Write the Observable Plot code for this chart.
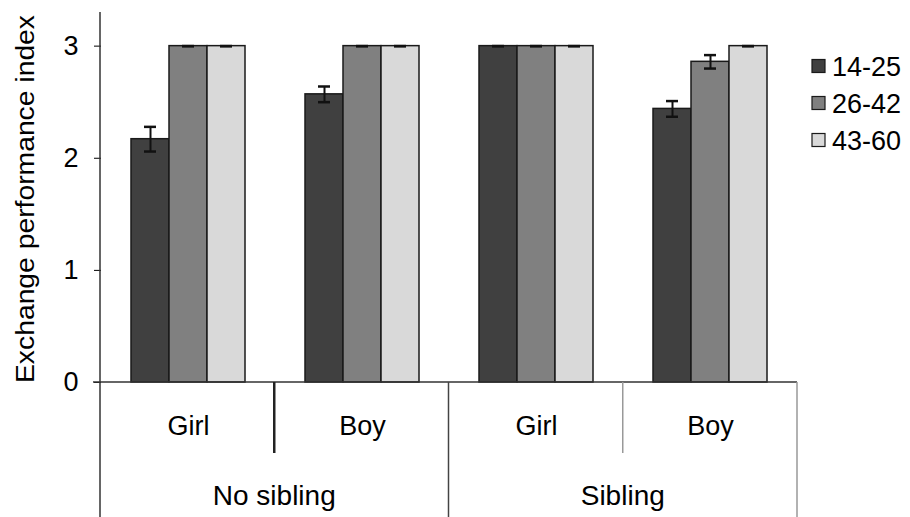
<!DOCTYPE html>
<html>
<head>
<meta charset="utf-8">
<script src="https://cdn.jsdelivr.net/npm/d3@7"></script>
<script src="https://cdn.jsdelivr.net/npm/@observablehq/plot@0.6"></script>
<style>
  html, body { margin: 0; padding: 0; background: #fff; }
  #chart { width: 910px; height: 517px; }
</style>
</head>
<body>
<div id="chart"></div>
<script>
// ---- data ----
const siblings = ["No sibling", "No sibling", "Sibling", "Sibling"];
const genders = ["Girl", "Boy", "Girl", "Boy"];
const ages = ["14-25", "26-42", "43-60"];
const mean1425 = [2.17, 2.57, 3.00, 2.44];
const mean2642 = [3.00, 3.00, 3.00, 2.86];
const mean4360 = [3.00, 3.00, 3.00, 3.00];
const err1425 = [0.11, 0.07, 0.00, 0.07];
const err2642 = [0.00, 0.00, 0.00, 0.06];
const err4360 = [0.00, 0.00, 0.00, 0.00];
const yTicks = [0, 1, 2, 3];
const yTitle = "Exchange performance index";
const ageColors = ["#404040", "#808080", "#d9d9d9"];

// ---- build table ----
const groups = siblings.map((s, i) => s + " · " + genders[i]);
const means = [mean1425, mean2642, mean4360];
const errs = [err1425, err2642, err4360];
const data = groups.flatMap((g, i) => ages.map((a, j) => ({
  group: g, age: a, mean: means[j][i], err: errs[j][i]
})));

const W = 910, H = 517;
const font = "'Liberation Sans', Arial, sans-serif";

const plot = Plot.plot({
  width: W,
  height: H,
  marginLeft: 100,
  marginRight: 113,
  marginTop: 12,
  marginBottom: 135,
  style: { fontFamily: font, fontSize: "27px", color: "#000", background: "#fff", overflow: "visible" },
  facet: { data, x: "group" },
  fx: { domain: groups, padding: 0, axis: "bottom", label: null, tickSize: 0, tickPadding: 33,
        tickFormat: g => genders[groups.indexOf(g)] },
  x: { domain: ages, paddingInner: 0, paddingOuter: 0.75, axis: null },
  y: { domain: [0, 3.3], ticks: yTicks, tickSize: 7, tickPadding: 16, label: null, tickFormat: d3.format("d") },
  color: { domain: ages, range: ageColors },
  marks: [
    Plot.barY(data, { x: "age", y: "mean", fill: "age", stroke: "#1a1a1a", strokeWidth: 1.5 }),
    Plot.ruleX(data, { x: "age", y1: d => d.mean - d.err, y2: d => d.mean + d.err, stroke: "#111", strokeWidth: 2 }),
    Plot.tickY(data, { x: "age", y: d => d.mean - d.err, stroke: "#111", strokeWidth: 2.5, insetLeft: 13, insetRight: 13 }),
    Plot.tickY(data, { x: "age", y: d => d.mean + d.err, stroke: "#111", strokeWidth: 2.5, insetLeft: 13, insetRight: 13 })
  ]
});

document.getElementById("chart").appendChild(plot);

// ---- decorations using Plot's own scales ----
const fxs = plot.scale("fx");
const fx = d3.scaleBand().domain(fxs.domain).range(fxs.range)
  .paddingInner(fxs.paddingInner ?? 0).paddingOuter(fxs.paddingOuter ?? 0).align(fxs.align ?? 0.5);
const ys = plot.scale("y");
const y = d3.scaleLinear().domain(ys.domain).range(ys.range);

const svg = d3.select(plot);
const g = svg.append("g").attr("fill", "none");
const x0 = fx(groups[0]);
const xEnd = fx(groups[groups.length - 1]) + fx.bandwidth();
const yBase = y(0);
const yTop = Math.min(...ys.range);
const ySub = yBase + 71;

// y axis line
g.append("line").attr("x1", x0).attr("x2", x0).attr("y1", yTop).attr("y2", H)
  .attr("stroke", "#333").attr("stroke-width", 1.5);
// baseline / table top
g.append("line").attr("x1", x0 - 7).attr("x2", xEnd).attr("y1", yBase).attr("y2", yBase)
  .attr("stroke", "#333").attr("stroke-width", 1.5);
// table right border
g.append("line").attr("x1", xEnd).attr("x2", xEnd).attr("y1", yBase).attr("y2", H)
  .attr("stroke", "#999").attr("stroke-width", 1.5);
// separators
groups.forEach((gr, i) => {
  if (i === 0) return;
  const xx = fx(gr);
  const major = siblings[i] !== siblings[i - 1];
  g.append("line").attr("x1", xx).attr("x2", xx).attr("y1", yBase).attr("y2", major ? H : ySub)
    .attr("stroke", major ? "#444" : (i === 1 ? "#222" : "#999")).attr("stroke-width", i === 1 ? 2.5 : 1.5);
});
// sibling labels
const sibNames = Array.from(new Set(siblings));
sibNames.forEach(s => {
  const idx = siblings.map((v, i) => v === s ? i : -1).filter(i => i >= 0);
  const left = fx(groups[idx[0]]);
  const right = fx(groups[idx[idx.length - 1]]) + fx.bandwidth();
  svg.append("text").attr("x", (left + right) / 2).attr("y", yBase + 123)
    .attr("text-anchor", "middle").attr("fill", "#000")
    .style("font-family", font).style("font-size", "28px").text(s);
});

// y axis title
svg.append("text")
  .attr("transform", `translate(34, ${(yTop + 384) / 2 + 1}) rotate(-90)`)
  .attr("text-anchor", "middle").attr("fill", "#000")
  .attr("textLength", 368).attr("lengthAdjust", "spacingAndGlyphs")
  .style("font-family", font).style("font-size", "25px").text(yTitle);

// legend
const lg = svg.append("g").attr("transform", `translate(${xEnd + 15}, 66)`);
ages.forEach((a, i) => {
  const row = lg.append("g").attr("transform", `translate(0, ${i * 37})`);
  row.append("rect").attr("x", 0).attr("y", -6.5).attr("width", 13).attr("height", 13)
    .attr("fill", ageColors[i]).attr("stroke", "#1a1a1a").attr("stroke-width", 1.2);
  row.append("text").attr("x", 20).attr("y", 0).attr("dy", "0.36em").attr("fill", "#000")
    .attr("text-anchor", "start")
    .style("font-family", font).style("font-size", "27px").text(a);
});
</script>
</body>
</html>
